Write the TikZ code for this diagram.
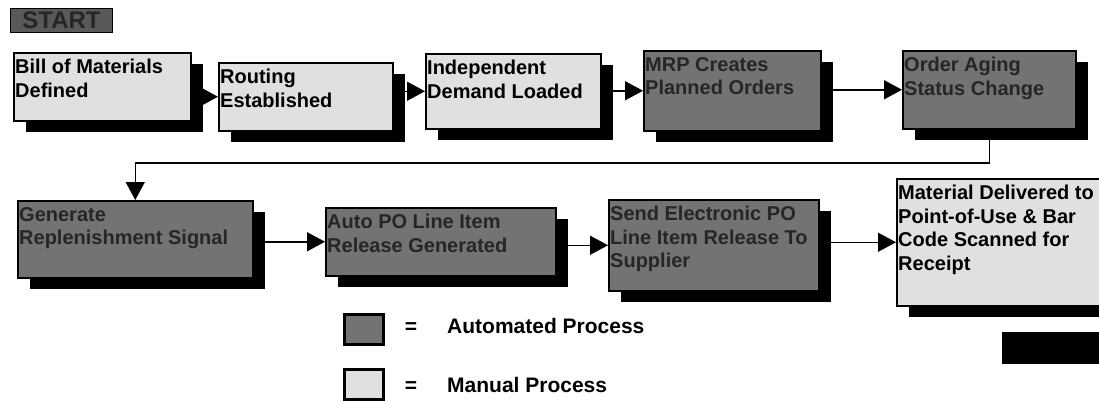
\documentclass[tikz,border=0pt]{standalone}
\usepackage{fontspec}
\setmainfont{Liberation Sans}
\usetikzlibrary{arrows.meta,shadows}

\tikzstyle{manual} = [rectangle, anchor=north west, draw=black, line width=1.5pt, fill=black!12, drop shadow={shadow xshift=12pt, shadow yshift=-11pt, fill=black, opacity=1}]
\tikzstyle{automated} = [manual, fill=black!55]
\tikzstyle{manualtext} = [anchor=north west, align=left, inner xsep=2pt, inner ysep=7pt, font=\fontsize{20}{23.5}\selectfont\bfseries]
\tikzstyle{autotext} = [manualtext, text=black!85]
\tikzstyle{startbox} = [rectangle, anchor=north west, draw=black, line width=1pt, fill=black!65, text=black!85, inner sep=0pt, minimum width=102, minimum height=24, font=\fontsize{24}{24}\selectfont\bfseries]
\tikzstyle{keybox} = [rectangle, anchor=north west, draw=black, line width=2.5pt, minimum width=39, minimum height=30]
\tikzstyle{keytext} = [anchor=base west, inner sep=0pt, font=\fontsize{21}{24}\selectfont\bfseries]
\tikzstyle{arrow} = [line width=1.5pt, -{Triangle[length=18pt, width=19pt]}]

\begin{document}
\begin{tikzpicture}[x=1pt, y=-1pt]
\useasboundingbox (0,0) rectangle (1099,400);
\clip (0,0) rectangle (1099,400);
\node (start) [startbox] at (10,8) {START};
% first row
\node (bom) [manual, minimum width=177, minimum height=68, label={[manualtext]north west:Bill of Materials\\Defined}] at (13,52) {};
\node (rout) [manual, minimum width=174, minimum height=68, label={[manualtext]north west:Routing\\Established}] at (218,62) {};
\node (indep) [manual, minimum width=175, minimum height=75, label={[manualtext]north west:Independent\\Demand Loaded}] at (425,53) {};
\node (mrp) [automated, minimum width=177, minimum height=80, label={[autotext]north west:MRP Creates\\Planned Orders}] at (643,50) {};
\node (ord) [automated, minimum width=173, minimum height=78, label={[autotext]north west:Order Aging\\Status Change}] at (902,50) {};
% second row
\node (gen) [automated, minimum width=235, minimum height=77, label={[autotext]north west:Generate\\Replenishment Signal}] at (17,200) {};
\node (auto) [automated, minimum width=230, minimum height=68, label={[autotext]north west:Auto PO Line Item\\Release Generated}] at (325,207) {};
\node (send) [automated, minimum width=210, minimum height=91, label={[autotext]north west:Send Electronic PO\\Line Item Release To\\Supplier}] at (608,199) {};
\node (mat) [manual, minimum width=215, minimum height=127, label={[manualtext]north west:Material Delivered to\\Point-of-Use \& Bar\\Code Scanned for\\Receipt}] at (896,178) {};
\node (finish) [rectangle, anchor=north west, fill=black, minimum width=110, minimum height=32] at (1002,332) {};
% legend
\node (autokey) [keybox, fill=black!55] at (343,313) {};
\node (autoeq) [keytext, anchor=base] at (411,333) {=};
\node (autolbl) [keytext] at (447,333) {Automated Process};
\node (mankey) [keybox, fill=black!12] at (343,368) {};
\node (maneq) [keytext, anchor=base] at (411,392) {=};
\node (manlbl) [keytext] at (447,392) {Manual Process};
\coordinate (turn) at (0,163);
\draw [arrow] (bom.east |- rout.west) -- (rout.west);
\draw [arrow] (rout.east |- indep.west) -- (indep.west);
\draw [arrow] (indep.east |- mrp.west) -- (mrp.west);
\draw [arrow] (mrp.east |- ord.west) -- (ord.west);
\draw [arrow] (ord.south) -- (ord.south |- turn) -| (gen.north);
\draw [arrow] (gen.east |- auto.west) -- (auto.west);
\draw [arrow] (auto.east |- send.west) -- (send.west);
\draw [arrow] (send.east |- mat.west) -- (mat.west);
\end{tikzpicture}
\end{document}
